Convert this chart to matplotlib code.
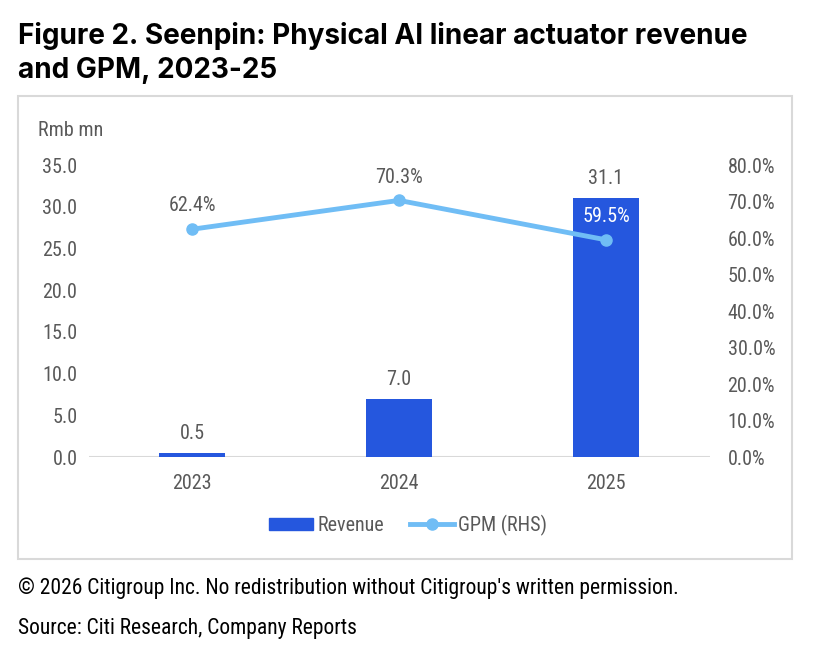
import matplotlib.pyplot as plt
from matplotlib.patches import Rectangle
from matplotlib.lines import Line2D
from matplotlib.ticker import FuncFormatter

years = ['2023', '2024', '2025']
revenue = [0.5, 7.0, 31.1]
gpm = [62.4, 70.3, 59.5]

narrow = ['Roboto Condensed', 'DejaVu Sans']
tick_col = '#595959'
bar_col = '#2557DE'
line_col = '#70BDF5'
fs = 14.5

fig = plt.figure(figsize=(8.16, 6.54), dpi=100)

# outer frame of the chart
fig.patches.append(Rectangle((0.022, 0.1453), 0.9486, 0.7079, transform=fig.transFigure,
                             fill=False, edgecolor='#d9d9d9', linewidth=1.5))

fig.text(0.022, 0.967, 'Figure 2. Seenpin: Physical AI linear actuator revenue\nand GPM, 2023-25',
         fontsize=20.1, fontweight='bold', family=['Inter', 'DejaVu Sans'], va='top', ha='left',
         linespacing=1.33, color='black')

ax = fig.add_axes([0.1085, 0.3012, 0.761, 0.4465])
x = range(len(years))
ax.bar(x, revenue, width=0.315, color=bar_col, zorder=2)
ax.set_xlim(-0.5, 2.5)
ax.set_ylim(0, 35)
ax.set_yticks([0, 5, 10, 15, 20, 25, 30, 35])
ax.yaxis.set_major_formatter(FuncFormatter(lambda v, p: '%.1f' % v))
ax.set_xticks(list(x))
ax.set_xticklabels(years)
for s in ax.spines.values():
    s.set_visible(False)
ax.axhline(0, color='#d9d9d9', linewidth=1.5, zorder=1)
ax.tick_params(length=0, labelsize=fs, labelcolor=tick_col, pad=8)
ax.tick_params(axis='x', pad=12)
for lab in ax.get_xticklabels() + ax.get_yticklabels():
    lab.set_family(narrow)
for i, v in enumerate(revenue):
    ax.annotate('%.1f' % v, (i, v), xytext=(0, 7), textcoords='offset points',
                ha='center', va='bottom', fontsize=fs, color=tick_col, family=narrow)

ax2 = ax.twinx()
ax2.plot(list(x), gpm, color=line_col, linewidth=3.5, marker='o', markersize=8, zorder=3)
ax2.set_ylim(0, 80)
ax2.set_yticks(range(0, 81, 10))
ax2.yaxis.set_major_formatter(FuncFormatter(lambda v, p: '%.1f%%' % v))
for s in ax2.spines.values():
    s.set_visible(False)
ax2.tick_params(length=0, labelsize=fs, labelcolor=tick_col, pad=13)
for lab in ax2.get_yticklabels():
    lab.set_family(narrow)
for i, v in enumerate(gpm):
    c = 'white' if i == 2 else tick_col
    ax2.annotate('%.1f%%' % v, (i, v), xytext=(0, 10), textcoords='offset points',
                 ha='center', va='bottom', fontsize=fs, color=c, family=narrow)

fig.text(0.047, 0.80, 'Rmb mn', fontsize=fs, color=tick_col, family=narrow, va='center')

handles = [Rectangle((0, 0), 1, 1, color=bar_col),
           Line2D([0], [0], color=line_col, linewidth=3.5, marker='o', markersize=8)]
leg = fig.legend(handles, ['Revenue', 'GPM (RHS)'], loc='center', bbox_to_anchor=(0.5, 0.197),
                 ncol=2, frameon=False, handlelength=2.2, handleheight=0.55, handletextpad=0.2,
                 columnspacing=1.3, prop={'family': narrow, 'size': fs})
for t in leg.get_texts():
    t.set_color(tick_col)

fig.text(0.022, 0.101, "\u00a9 2026 Citigroup Inc. No redistribution without Citigroup's written permission.",
         fontsize=15.5, family=narrow, va='center', color='black')
fig.text(0.022, 0.039, 'Source: Citi Research, Company Reports',
         fontsize=15.5, family=narrow, va='center', color='black')

fig.savefig('out.png', dpi=100)
